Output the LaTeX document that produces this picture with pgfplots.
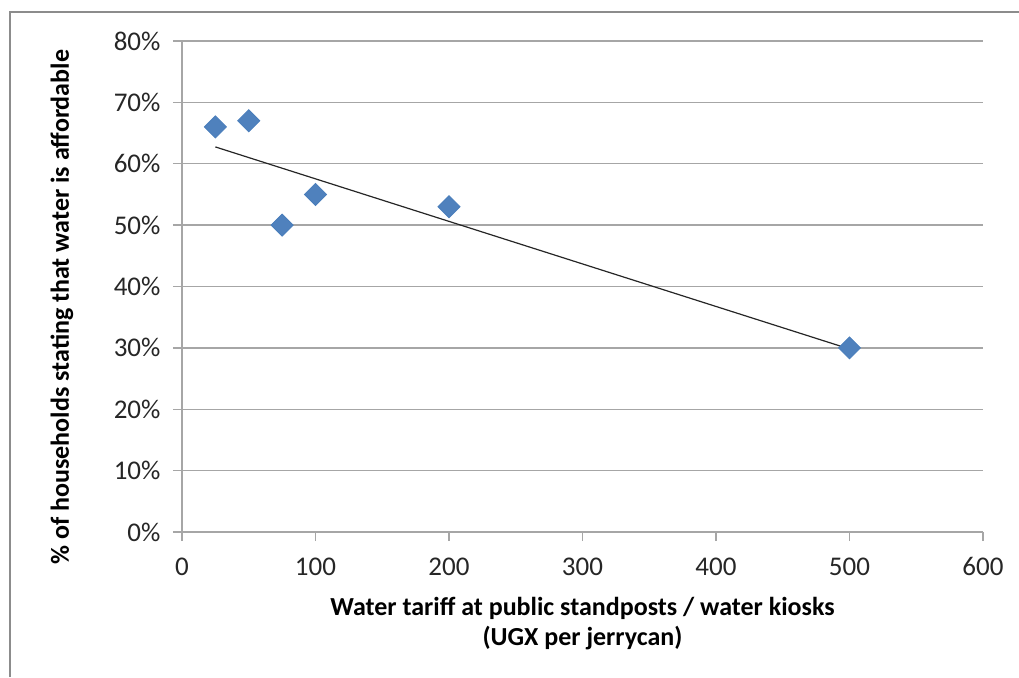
\documentclass[border=0pt]{standalone}
\usepackage{pgfplots}
\usepackage{pgfplotstable}
\pgfplotsset{compat=1.18}
\usepackage{fontspec}
\setmainfont{Carlito}

\definecolor{markblue}{HTML}{4F81BD}
\definecolor{markedge}{HTML}{4A7EBB}
\definecolor{gridgray}{HTML}{A6A6A6}
\definecolor{framegray}{HTML}{8C8C8C}

% tariff (UGX per jerrycan) vs. share of households finding water affordable (%)
\pgfplotstableread{
x   y
25  66
50  67
75  50
100 55
200 53
500 30
}\tariffdata

\begin{document}
\begin{tikzpicture}[x=1pt,y=1pt]
\useasboundingbox (-182,-145) rectangle (837,532);
% chart frame
\draw[framegray, line width=1.5pt] (-172,-145) -- (-172,520) -- (837,520);
\begin{axis}[
  at={(0,0)}, anchor=south west,
  scale only axis, width=801pt, height=491pt,
  xmin=0, xmax=600, ymin=0, ymax=80,
  axis x line*=bottom, axis y line*=left,
  axis line style={gridgray, line width=1.4pt},
  every tick/.style={gridgray, line width=1.4pt},
  tick align=outside, major tick length=9pt,
  xtick={0,100,...,600},
  xticklabels={0,100,200,300,400,500,600},
  ytick={0,10,...,80},
  yticklabels={0\%,10\%,20\%,30\%,40\%,50\%,60\%,70\%,80\%},
  ymajorgrids,
  grid style={gridgray, line width=1.4pt},
  tick label style={font=\fontsize{27}{32}\selectfont, text=black!85},
  xticklabel style={yshift=-13pt},
  yticklabel style={xshift=-9pt},
  xlabel={Water tariff at public standposts / water kiosks\\(UGX per jerrycan)},
  xlabel style={at={(axis description cs:0.5,-0.187)}, anchor=center, align=center,
    font=\fontsize{26}{30}\selectfont\bfseries},
  ylabel={\% of households stating that water is affordable},
  ylabel style={at={(axis description cs:-0.15,0.458)}, anchor=center,
    font=\fontsize{26}{30}\selectfont\bfseries},
  clip=false,
]
\addplot[black!85, line width=1.2pt] table[x=x, y={create col/linear regression={y=y}}] {\tariffdata};
\addplot[only marks, mark=square*, mark size=7.8pt,
  mark options={rotate=45, fill=markblue, draw=markedge, line width=0.8pt}]
  table[x=x, y=y] {\tariffdata};
\end{axis}
\end{tikzpicture}
\end{document}
